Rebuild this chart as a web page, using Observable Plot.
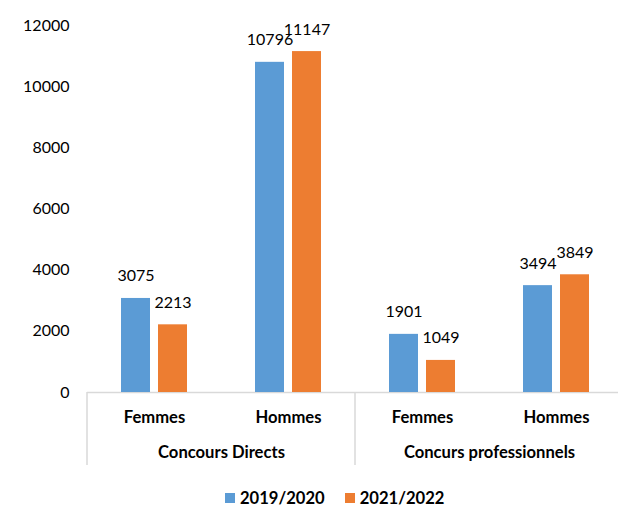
<!DOCTYPE html>
<html><head><meta charset="utf-8">
<script src="https://cdn.jsdelivr.net/npm/d3@7"></script>
<script src="https://cdn.jsdelivr.net/npm/@observablehq/plot@0.6"></script>
<style>
body{margin:0;background:#fff;font-family:Lato,sans-serif;}
#legend{display:flex;align-items:center;height:31px;box-sizing:border-box;padding-top:14px;padding-left:225px;font:bold 16.6px Lato,sans-serif;color:#000}
.item{display:flex;align-items:center;margin-right:20px}
.sw{width:10px;height:10px;margin-right:5px}
</style></head><body><div id="chart"></div><div id="legend"></div><script>
const groups = ["Concours Directs", "Concurs professionnels"];
const genders = ["Femmes", "Hommes"];
const series = ["2019/2020", "2021/2022"];
const values2019 = [3075, 10796, 1901, 3494];
const values2021 = [2213, 11147, 1049, 3849];
const colors = ["#5B9BD5", "#ED7D31"];
const yTicks = [0, 2000, 4000, 6000, 8000, 10000, 12000];

const keys = [];
groups.forEach(g => genders.forEach(s => keys.push(g + "|" + s)));
const rows = [];
keys.forEach((k, i) => {
  rows.push({key: k, series: series[0], value: values2019[i]});
  rows.push({key: k, series: series[1], value: values2021[i]});
});
const groupRows = groups.map(g => ({key: g + "|" + genders[0], name: g}));

const W = 618, H = 475;
const plot = Plot.plot({
  width: W, height: H,
  marginLeft: 86, marginRight: 0, marginTop: 25, marginBottom: 83,
  style: {fontFamily: "Lato, sans-serif", fontSize: "16px", color: "#000", background: "#fff", overflow: "visible"},
  fx: {domain: keys, range: [86, 623.2], padding: 0},
  x: {domain: series, paddingInner: 0.2105, paddingOuter: 0.872, axis: null},
  y: {domain: [0, 12000]},
  color: {domain: series, range: colors},
  marks: [
    Plot.ruleY([0], {stroke: "#d9d9d9", strokeWidth: 1.5}),
    Plot.barY(rows, {fx: "key", x: "series", y: "value", fill: "series"}),
    Plot.text(rows, {fx: "key", x: "series", y: "value", text: d => String(d.value), lineAnchor: "bottom", dy: -17, fontSize: 16, fill: "#000"}),
    Plot.axisY({ticks: yTicks, tickSize: 0, tickPadding: 18, tickFormat: d3.format("d"), label: null, fontSize: 16}),
    Plot.axisFx({anchor: "bottom", tickSize: 0, tickPadding: 18.3, tickFormat: k => k.split("|")[1], label: null, fontWeight: "bold", fontSize: 16.6}),
    Plot.text(groupRows, {fx: "key", text: "name", frameAnchor: "bottom-right", textAnchor: "middle", lineAnchor: "top", dy: 54.2, fontWeight: "bold", fontSize: 16.6, fill: "#000"})
  ]
});
document.getElementById("chart").appendChild(plot);

// group separators derived from the fx scale
const fx = plot.scale("fx");
const yz = plot.scale("y").apply(0);
const sepX = keys.filter(k => k.endsWith("|" + genders[0])).map(k => fx.apply(k));
sepX.push(fx.apply(keys[keys.length - 1]) + fx.bandwidth);
d3.select(plot).append("g").selectAll("line").data(sepX).join("line")
  .attr("x1", d => d).attr("x2", d => d).attr("y1", yz).attr("y2", H - 10)
  .attr("stroke", "#d9d9d9").attr("stroke-width", 1.5);

const legend = document.getElementById("legend");
series.forEach((s, i) => {
  const it = document.createElement("div"); it.className = "item";
  const sw = document.createElement("div"); sw.className = "sw"; sw.style.background = colors[i];
  const tx = document.createElement("span"); tx.textContent = s;
  it.appendChild(sw); it.appendChild(tx); legend.appendChild(it);
});
</script></body></html>
